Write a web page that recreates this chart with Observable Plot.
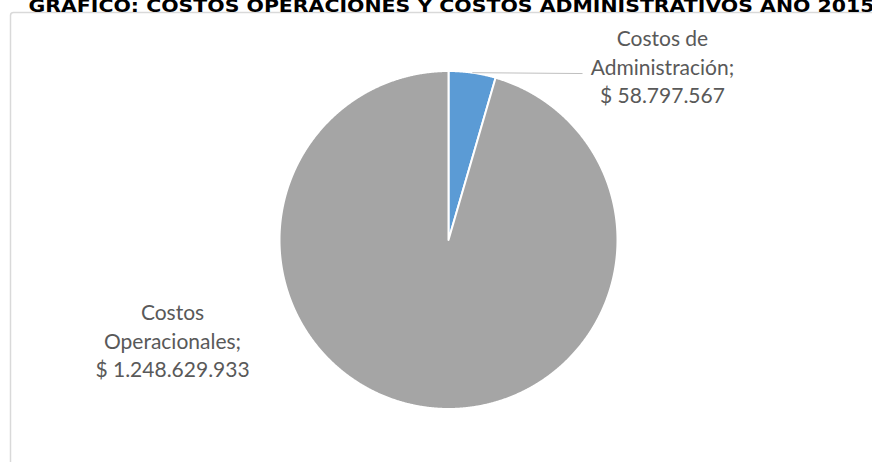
<!DOCTYPE html>
<html><head><meta charset="utf-8">
<script src="https://cdn.jsdelivr.net/npm/d3@7"></script>
<script src="https://cdn.jsdelivr.net/npm/@observablehq/plot@0.6"></script>
<style>body{margin:0;background:#fff;overflow:hidden} svg{display:block}</style>
</head><body><div id="chart"></div>
<script>
const title = "GRÁFICO: COSTOS OPERACIONES Y COSTOS ADMINISTRATIVOS AÑO 2015";
const categories = ["Costos de Administración", "Costos Operacionales"];
const labelNames = [["Costos de", "Administración;"], ["Costos", "Operacionales;"]];
const values = [58797567, 1248629933];
const colors = ["#5B9BD5", "#A5A5A5"];

const es = d3.formatLocale({decimal: ",", thousands: ".", grouping: [3], currency: ["$ ", ""]});
const fmt = es.format("$,");

// pie geometry from the data
const arcs = d3.pie().sort(null)(values);
const pts = [];
arcs.forEach((a, i) => {
  pts.push({cat: categories[i], x: 0, y: 0});
  const n = Math.max(2, Math.ceil((a.endAngle - a.startAngle) / 0.004));
  for (let k = 0; k <= n; k++) {
    const t = a.startAngle + (a.endAngle - a.startAngle) * k / n;
    pts.push({cat: categories[i], x: Math.sin(t), y: Math.cos(t)});
  }
});

const labels = categories.map((c, i) => ({
  cat: c,
  text: [...labelNames[i], fmt(values[i])].join("\n"),
  x: [1.266, -1.633][i],
  y: [1.033, -0.589][i]
}));

const mid = (arcs[0].startAngle + arcs[0].endAngle) / 2;
const leader = [{x1: Math.sin(mid), y1: Math.cos(mid), x2: 0.793, y2: 0.985}];

const cx = 448, cy = 239.5, r = 169;

const chart = Plot.plot({
  width: 872,
  height: 462,
  margin: 0,
  x: {domain: [-1, 1], range: [cx - r, cx + r], axis: null},
  y: {domain: [-1, 1], range: [cy + r, cy - r], axis: null},
  color: {domain: categories, range: colors},
  marks: [
    Plot.frame({stroke: "#d9d9d9", strokeWidth: 1.5, insetLeft: 10, insetTop: 12, insetRight: -10, insetBottom: -10, rx: 3}),
    Plot.text([title], {frameAnchor: "top-left", text: d => d, dx: 28, dy: 11, textAnchor: "start", lineAnchor: "bottom",
      fontFamily: "DejaVu Sans", fontWeight: "bold", fontSize: 17, fill: "#000", className: "ttl"}),
    Plot.line(pts, {x: "x", y: "y", z: "cat", fill: "cat", stroke: "#fff", strokeWidth: 2, curve: "linear-closed"}),
    Plot.link(leader, {x1: "x1", y1: "y1", x2: "x2", y2: "y2", stroke: "#bfbfbf", strokeWidth: 1}),
    Plot.text(labels, {x: "x", y: "y", text: "text", fontFamily: "Lato", fontWeight: 400, fontSize: 21,
      lineHeight: 1.35, fill: "#595959", textAnchor: "middle"})
  ]
});
document.getElementById("chart").appendChild(chart);
d3.select(chart).selectAll("g.ttl text").attr("textLength", 846).attr("lengthAdjust", "spacingAndGlyphs");
</script>
</body></html>
